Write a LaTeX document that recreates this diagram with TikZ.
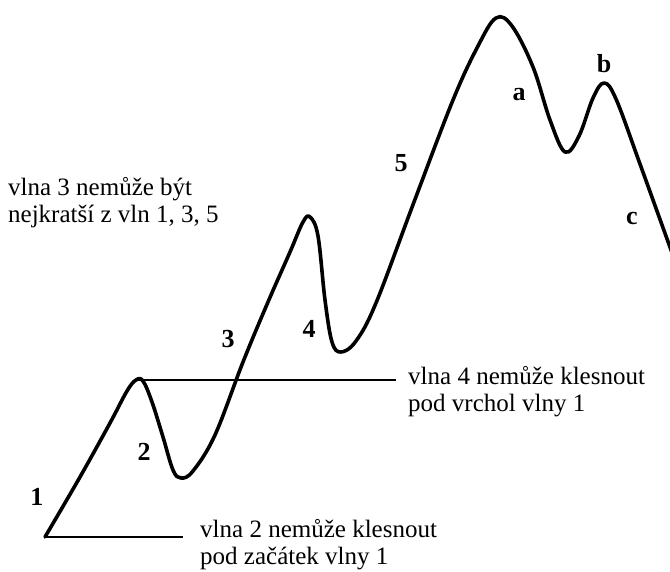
\documentclass[tikz,border=0pt]{standalone}
\usepackage{fontspec}
\setmainfont{Liberation Serif}
\begin{document}
\begin{tikzpicture}[
    x=1pt, y=-1pt,
    wave/.style={line width=3.6pt, line cap=round, line join=round},
    level/.style={line width=1.3pt},
    wavelabel/.style={font=\fontsize{26}{28}\selectfont\bfseries, inner sep=0pt},
    rulenote/.style={font=\fontsize{25}{27}\selectfont, align=left, inner sep=0pt, anchor=base west}
  ]
  \useasboundingbox (0,0) rectangle (670,571);
  % ends of the two level lines
  \coordinate (start) at (45,537);
  \coordinate (peak1) at (137,380);
  \coordinate (startend) at (183,537);
  \coordinate (peak1end) at (396,380);
  % the wave
  \draw[wave] plot[smooth, tension=0.6] coordinates {
    (45,537) (80,477) (110,423) (127,391) (136,380) (143,381) (152,402)
    (163,437) (173,470) (181,478) (193,471) (215,435) (243,362) (268,302)
    (290,252) (303,222) (310,217) (318,236) (325,300) (332,342) (341,352)
    (356,341) (376,303) (414,202) (453,100) (478,46) (496,18) (512,26)
    (533,67) (550,120) (565,152) (579,136) (593,98) (604,83) (616,99)
    (640,164) (680,275)};
  \draw[level] (start) -- (startend);
  \draw[level] (peak1) -- (peak1end);
  % wave labels
  \node[wavelabel] (w1) at (37,497) {1};
  \node[wavelabel] (w2) at (144,452) {2};
  \node[wavelabel] (w3) at (228,339) {3};
  \node[wavelabel] (w4) at (309,329) {4};
  \node[wavelabel] (w5) at (401,163) {5};
  \node[wavelabel] (wa) at (519,95) {a};
  \node[wavelabel] (wb) at (604,64) {b};
  \node[wavelabel] (wc) at (632,218) {c};
  % rules
  \node[rulenote] (rule3) at (8,222) {vlna 3 nemůže být\\nejkratší z vln 1, 3, 5};
  \node[rulenote] (rule4) at (408,411) {vlna 4 nemůže klesnout\\pod vrchol vlny 1};
  \node[rulenote] (rule2) at (200,564) {vlna 2 nemůže klesnout\\pod začátek vlny 1};
\end{tikzpicture}
\end{document}
